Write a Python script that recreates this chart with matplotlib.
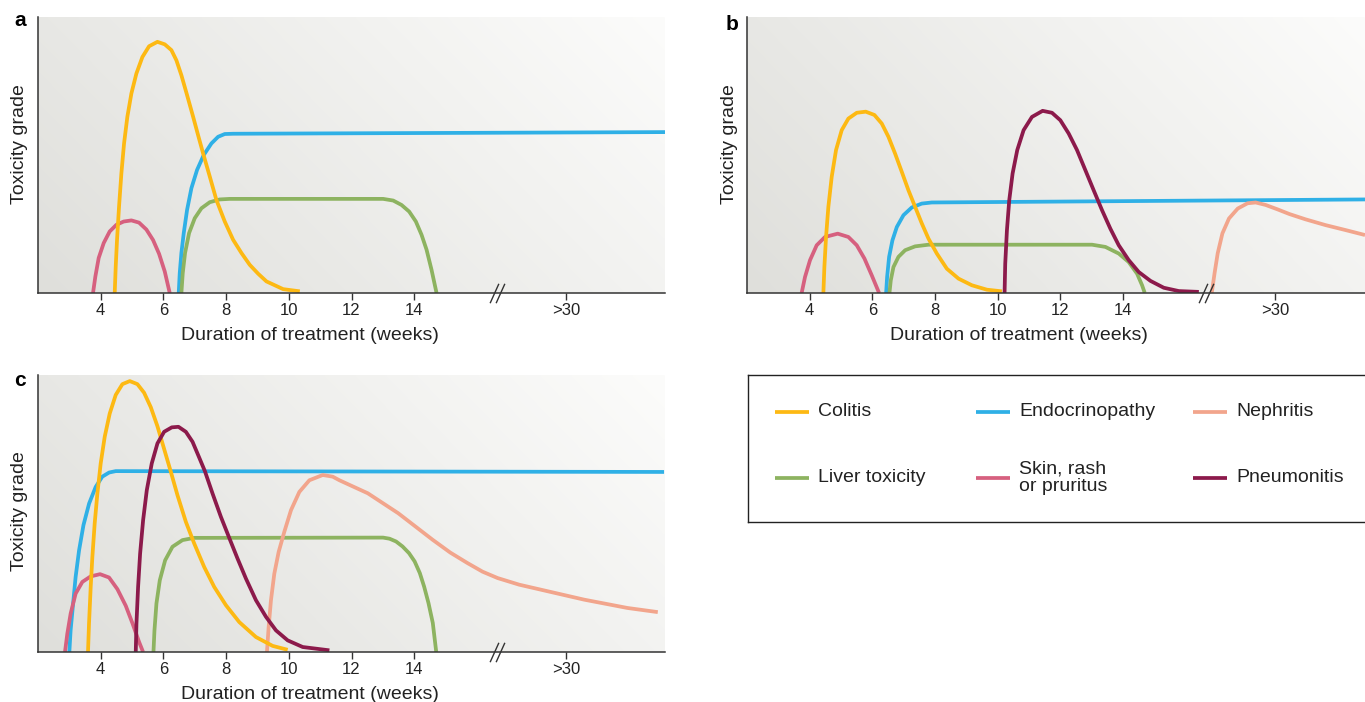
import matplotlib
matplotlib.use("Agg")
import matplotlib.pyplot as plt
import matplotlib.transforms as mtransforms
import numpy as np
from matplotlib.path import Path

plt.rcParams['font.family'] = ['Liberation Sans', 'DejaVu Sans']

# x positions are weeks; the ">30" tick sits after an axis break
TICK_WEEKS = [4, 6, 8, 10, 12, 14]
TICK_LABELS = ['4', '6', '8', '10', '12', '14']
GT30_LABEL = '>30'

COLORS = {
    'Colitis': '#FDB913',
    'Endocrinopathy': '#2FB0E6',
    'Nephritis': '#F2A58C',
    'Liver toxicity': '#8DB360',
    'Skin, rash\nor pruritus': '#D6607F',
    'Pneumonitis': '#8C1A4B',
}

# panel a: (week, relative toxicity grade)
A_SKIN = [(3.755, 0), (3.830, 0.060), (3.936, 0.127), (4.096, 0.181), (4.287, 0.223),
          (4.5, 0.247), (4.734, 0.259), (4.979, 0.263), (5.223, 0.255), (5.457, 0.230),
          (5.670, 0.192), (5.862, 0.142), (6.043, 0.078), (6.202, 0)]
A_COLITIS = [(4.447, 0), (4.479, 0.096), (4.521, 0.193), (4.585, 0.313), (4.660, 0.434),
             (4.745, 0.542), (4.851, 0.639), (4.979, 0.723), (5.138, 0.795), (5.330, 0.855),
             (5.543, 0.894), (5.809, 0.910), (6.043, 0.901), (6.255, 0.880), (6.415, 0.843),
             (6.574, 0.789), (6.755, 0.717), (6.947, 0.639), (7.106, 0.572), (7.266, 0.506),
             (7.479, 0.422), (7.691, 0.337), (7.957, 0.259), (8.223, 0.193), (8.489, 0.145),
             (8.755, 0.102), (9.021, 0.070), (9.287, 0.042), (9.819, 0.014), (10.351, 0.006)]
A_ENDO = [(6.489, 0), (6.521, 0.072), (6.574, 0.145), (6.649, 0.217), (6.755, 0.301),
          (6.894, 0.380), (7.074, 0.446), (7.287, 0.5), (7.532, 0.542), (7.745, 0.566),
          (7.957, 0.576), (8.223, 0.577), (22.0, 0.583)]
A_LIVER = [(6.574, 0), (6.617, 0.072), (6.691, 0.145), (6.819, 0.217), (7.0, 0.271),
           (7.213, 0.307), (7.479, 0.329), (7.798, 0.339), (8.117, 0.341), (13.011, 0.341),
           (13.330, 0.335), (13.596, 0.319), (13.840, 0.295), (14.053, 0.259), (14.234, 0.211),
           (14.394, 0.157), (14.553, 0.084), (14.713, 0)]

# panel b
B_SKIN = [(3.744, 0), (3.851, 0.058), (4.011, 0.119), (4.224, 0.173), (4.490, 0.203),
          (4.895, 0.215), (5.235, 0.203), (5.502, 0.173), (5.747, 0.125), (5.981, 0.064),
          (6.215, 0)]
B_COLITIS = [(4.437, 0), (4.469, 0.094), (4.522, 0.203), (4.596, 0.312), (4.703, 0.421),
             (4.841, 0.518), (5.022, 0.590), (5.235, 0.632), (5.502, 0.653), (5.789, 0.657),
             (6.066, 0.645), (6.300, 0.614), (6.513, 0.566), (6.726, 0.505), (6.939, 0.439),
             (7.152, 0.372), (7.365, 0.312), (7.578, 0.252), (7.791, 0.197), (8.057, 0.143),
             (8.377, 0.088), (8.750, 0.052), (9.176, 0.028), (9.655, 0.012), (10.134, 0.006)]
B_ENDO = [(6.439, 0), (6.471, 0.058), (6.535, 0.131), (6.641, 0.191), (6.780, 0.239),
          (6.993, 0.282), (7.259, 0.310), (7.578, 0.324), (7.898, 0.328), (21.72, 0.339)]
B_LIVER = [(6.545, 0), (6.588, 0.046), (6.673, 0.094), (6.833, 0.131), (7.046, 0.155),
           (7.365, 0.169), (7.791, 0.175), (13.010, 0.175), (13.436, 0.167), (13.862, 0.143),
           (14.181, 0.112), (14.447, 0.070), (14.607, 0.028), (14.692, 0)]
B_PNEUMO = [(10.219, 0), (10.240, 0.106), (10.294, 0.227), (10.368, 0.336), (10.475, 0.433),
            (10.624, 0.518), (10.826, 0.590), (11.093, 0.638), (11.433, 0.660), (11.732, 0.653),
            (11.998, 0.626), (12.264, 0.578), (12.530, 0.518), (12.797, 0.445), (13.063, 0.372),
            (13.329, 0.300), (13.595, 0.233), (13.862, 0.173), (14.181, 0.119), (14.501, 0.076),
            (14.873, 0.044), (15.299, 0.019), (15.779, 0.007), (16.418, 0.004)]
B_NEPHRO = [(16.83, 0), (16.92, 0.072), (17.02, 0.144), (17.17, 0.216), (17.38, 0.270),
            (17.66, 0.306), (17.97, 0.325), (18.23, 0.328), (18.55, 0.319), (18.93, 0.303),
            (19.31, 0.286), (19.82, 0.267), (20.46, 0.246), (21.10, 0.228), (21.72, 0.210)]

# panel c
C_ENDO = [(3.0, 0), (3.04, 0.078), (3.12, 0.175), (3.20, 0.271), (3.31, 0.367),
          (3.45, 0.458), (3.63, 0.536), (3.84, 0.596), (4.05, 0.633), (4.27, 0.648),
          (4.48, 0.653), (21.97, 0.650)]
C_SKIN = [(2.861, 0), (2.935, 0.066), (3.042, 0.139), (3.201, 0.211), (3.414, 0.253),
          (3.681, 0.273), (3.979, 0.281), (4.266, 0.269), (4.532, 0.227), (4.799, 0.167),
          (5.012, 0.104), (5.225, 0.036), (5.352, 0)]
C_COLITIS = [(3.595, 0), (3.627, 0.102), (3.681, 0.235), (3.734, 0.343), (3.808, 0.464),
             (3.894, 0.572), (4.0, 0.681), (4.128, 0.777), (4.288, 0.861), (4.479, 0.928),
             (4.692, 0.967), (4.927, 0.978), (5.171, 0.967), (5.384, 0.936), (5.597, 0.884),
             (5.810, 0.815), (6.023, 0.733), (6.236, 0.651), (6.449, 0.566), (6.716, 0.470),
             (6.982, 0.392), (7.301, 0.307), (7.621, 0.235), (7.994, 0.169), (8.420, 0.108),
             (8.952, 0.054), (9.485, 0.022), (9.964, 0.008)]
C_PNEUMO = [(5.118, 0), (5.140, 0.102), (5.193, 0.235), (5.257, 0.355), (5.353, 0.476),
            (5.470, 0.584), (5.629, 0.681), (5.810, 0.753), (6.023, 0.795), (6.268, 0.811),
            (6.481, 0.813), (6.716, 0.795), (6.929, 0.759), (7.142, 0.702), (7.323, 0.653),
            (7.568, 0.572), (7.834, 0.488), (8.100, 0.412), (8.366, 0.337), (8.633, 0.265),
            (8.952, 0.187), (9.272, 0.127), (9.591, 0.078), (9.964, 0.042), (10.443, 0.018),
            (11.295, 0.006)]
C_LIVER = [(5.683, 0), (5.715, 0.078), (5.778, 0.175), (5.885, 0.259), (6.055, 0.331),
           (6.290, 0.380), (6.609, 0.404), (6.982, 0.412), (13.007, 0.413), (13.214, 0.409),
           (13.421, 0.399), (13.628, 0.381), (13.834, 0.357), (14.014, 0.327), (14.179, 0.285),
           (14.317, 0.236), (14.455, 0.177), (14.593, 0.105), (14.703, 0)]
C_NEPHRO = [(9.303, 0), (9.357, 0.090), (9.431, 0.187), (9.538, 0.283), (9.676, 0.361),
            (9.857, 0.434), (10.070, 0.512), (10.337, 0.578), (10.656, 0.620), (11.082, 0.639),
            (11.401, 0.633), (11.614, 0.620), (12.52, 0.573), (13.49, 0.501), (14.04, 0.453),
            (14.59, 0.405), (15.15, 0.359), (15.70, 0.321), (16.18, 0.290), (16.66, 0.267),
            (17.35, 0.243), (18.04, 0.225), (19.42, 0.189), (20.80, 0.159), (21.77, 0.144)]

PANEL_A = {'Skin, rash\nor pruritus': A_SKIN, 'Endocrinopathy': A_ENDO,
           'Liver toxicity': A_LIVER, 'Colitis': A_COLITIS}
PANEL_B = {'Skin, rash\nor pruritus': B_SKIN, 'Endocrinopathy': B_ENDO,
           'Liver toxicity': B_LIVER, 'Colitis': B_COLITIS,
           'Pneumonitis': B_PNEUMO, 'Nephritis': B_NEPHRO}
PANEL_C = {'Endocrinopathy': C_ENDO, 'Skin, rash\nor pruritus': C_SKIN,
           'Liver toxicity': C_LIVER, 'Nephritis': C_NEPHRO,
           'Colitis': C_COLITIS, 'Pneumonitis': C_PNEUMO}

LEGEND_ROWS = [['Colitis', 'Endocrinopathy', 'Nephritis'],
               ['Liver toxicity', 'Skin, rash\nor pruritus', 'Pneumonitis']]

W, H = 1365, 702
GT30_POS = 18.85
BREAK_POS = 16.65
DARK = '#333333'

fig = plt.figure(figsize=(W / 100, H / 100), dpi=100)


def px_rect(left, top, right, bottom):
    return [left / W, 1 - bottom / H, (right - left) / W, (bottom - top) / H]


def make_panel(rect, xmax, series):
    ax = fig.add_axes(rect)
    # soft grey background, lighter towards the top right
    gx, gy = np.meshgrid(np.linspace(0, 1, 300), np.linspace(0, 1, 100))
    g = 0.7 * gx + 0.3 * gy
    dark = np.array([223, 223, 219]) / 255
    light = np.array([252, 252, 251]) / 255
    img = dark + (light - dark) * g[..., None]
    ax.imshow(img, extent=[0, 1, 0, 1], transform=ax.transAxes, origin='lower',
              aspect='auto', zorder=0, interpolation='bilinear')
    for name, pts in series.items():
        xs = [p[0] for p in pts]
        ys = [p[1] for p in pts]
        ax.plot(xs, ys, color=COLORS[name], lw=2.7, solid_joinstyle='round',
                solid_capstyle='butt', zorder=3)
    ax.set_xlim(2, xmax)
    ax.set_ylim(0, 1)
    for s in ['top', 'right']:
        ax.spines[s].set_visible(False)
    for s in ['left', 'bottom']:
        ax.spines[s].set_color(DARK)
        ax.spines[s].set_linewidth(1.1)
        ax.spines[s].set_zorder(5)
    ax.set_yticks([])
    ax.set_xticks(TICK_WEEKS + [GT30_POS])
    ax.set_xticklabels(TICK_LABELS + [GT30_LABEL])
    ax.tick_params(axis='x', direction='out', length=5, width=1, color=DARK,
                   labelsize=12, pad=2, labelcolor='#222222')
    # axis break marks
    slash = Path([(-0.45, -1), (0.45, 1)], [Path.MOVETO, Path.LINETO])
    ax.plot([BREAK_POS - 0.1, BREAK_POS + 0.1], [0, 0], ls='none', marker=slash,
            ms=14, mec=DARK, mew=1.0, clip_on=False, zorder=6)
    trans = mtransforms.blended_transform_factory(ax.transData, ax.transAxes)
    ax.text(10.67, -0.153, 'Duration of treatment (weeks)', transform=trans,
            ha='center', va='center', fontsize=14, color='#222222')
    ax.text(-18 / (rect[2] * W), 0.54, 'Toxicity grade', transform=ax.transAxes,
            rotation=90, ha='center', va='center', fontsize=14, color='#222222')
    return ax


ax_a = make_panel(px_rect(38, 17, 665, 293), 22.0, PANEL_A)
ax_b = make_panel(px_rect(747, 17, 1365, 293), 21.72, PANEL_B)
ax_c = make_panel(px_rect(38, 375, 665, 652), 22.0, PANEL_C)
ax_c.texts[-1].set_position((-18 / 627, 0.51))

for letter, (lx, ly) in zip('abc', [(20, 20), (732, 24), (20, 381)]):
    fig.text(lx / W, 1 - ly / H, letter, fontsize=15, fontweight='bold',
             ha='center', va='center')

# legend box, running off the right edge like the original
ax_l = fig.add_axes(px_rect(748, 375, 1380, 522))
ax_l.set_xlim(748, 1380)
ax_l.set_ylim(522, 375)
ax_l.set_xticks([])
ax_l.set_yticks([])
for s in ax_l.spines.values():
    s.set_color('#222222')
    s.set_linewidth(1.0)
col_x = [775, 976, 1193]
row_y = [412, 478]
for r, row in enumerate(LEGEND_ROWS):
    for c, name in enumerate(row):
        x0 = col_x[c]
        ax_l.plot([x0, x0 + 34], [row_y[r], row_y[r]], color=COLORS[name], lw=2.7,
                  solid_capstyle='butt')
        ax_l.text(x0 + 43, row_y[r], name, ha='left', va='center', fontsize=14,
                  color='#222222', linespacing=1.05)

fig.savefig('out.png', dpi=100)
